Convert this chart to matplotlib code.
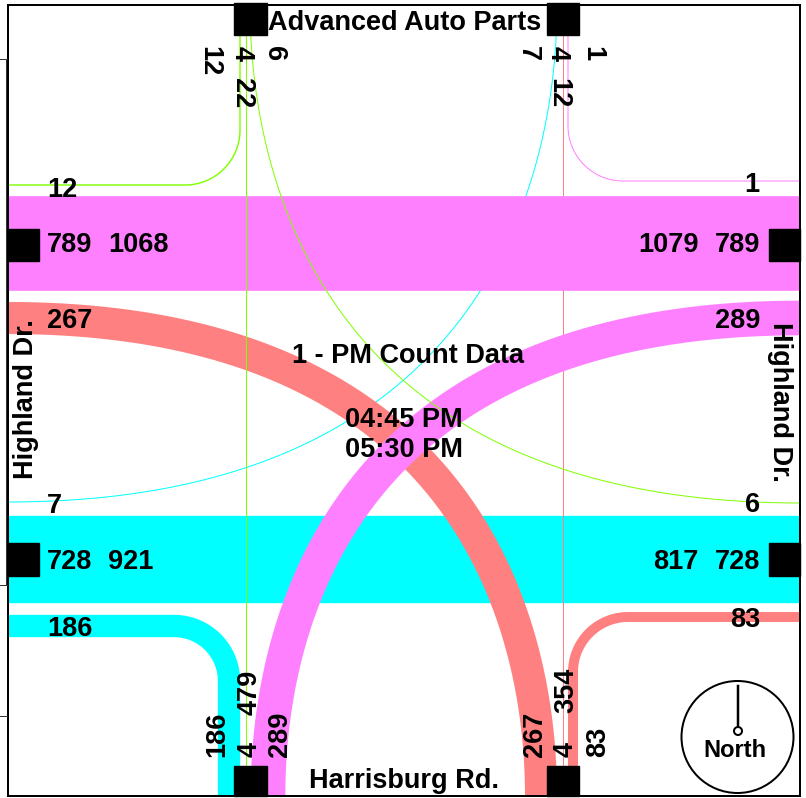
import matplotlib
matplotlib.use('Agg')
import matplotlib.pyplot as plt
from matplotlib.patches import Rectangle, Circle
import numpy as np

# movement volumes per approach: right, through, left
north_vol = [12, 4, 6]      # Advanced Auto Parts
south_vol = [83, 4, 267]    # Harrisburg Rd.
east_vol = [1, 789, 289]    # Highland Dr. (east)
west_vol = [186, 728, 7]    # Highland Dr. (west)

road_names = ['Advanced Auto Parts', 'Harrisburg Rd.', 'Highland Dr.', 'Highland Dr.']
title = '1 - PM Count Data'
times = ['04:45 PM', '05:30 PM']

# approach colours
c_north = '#80FF00'
c_south = '#FF8080'
c_east = '#FF80FF'
c_west = '#00FFFF'

W, H = 806, 798
PX = 72 / 100.0   # points per pixel
SCALE = 0.12      # pixels per vehicle

plt.rcParams['font.family'] = ['Liberation Sans', 'DejaVu Sans']
fig = plt.figure(figsize=(W / 100, H / 100), dpi=100)
ax = fig.add_axes([0, 0, 1, 1])
ax.set_xlim(0, W)
ax.set_ylim(H, 0)
ax.axis('off')


def width(v):
    return max(v * SCALE, 1.0) * PX


def bez(p0, p1, p2, p3, n=200):
    t = np.linspace(0, 1, n)[:, None]
    return (1-t)**3*p0 + 3*(1-t)**2*t*p1 + 3*(1-t)*t**2*p2 + t**3*p3


def left_turn(h_end, v_end, vol, color, z, kh=0.9, kv=0.3):
    h_end = np.array(h_end, float)
    v_end = np.array(v_end, float)
    corner = np.array([v_end[0], h_end[1]])
    p1 = h_end + kh * (corner - h_end)
    p2 = v_end + kv * (corner - v_end)
    pts = bez(h_end, p1, p2, v_end)
    ax.plot(pts[:, 0], pts[:, 1], color=color, lw=width(vol),
            solid_capstyle='butt', zorder=z)


def right_turn(start, corner, end, vol, color, z, r=55):
    start = np.array(start, float)
    corner = np.array(corner, float)
    end = np.array(end, float)
    d1 = (corner - start) / np.linalg.norm(corner - start)
    d2 = (end - corner) / np.linalg.norm(end - corner)
    a = corner - r * d1
    b = corner + r * d2
    c = a + r * d2
    a0 = np.arctan2(*(a - c)[::-1])
    a1 = np.arctan2(*(b - c)[::-1])
    da = (a1 - a0 + np.pi) % (2 * np.pi) - np.pi
    th = np.linspace(a0, a0 + da, 50)
    arc = np.c_[c[0] + r * np.cos(th), c[1] + r * np.sin(th)]
    pts = np.vstack([start, arc, end])
    ax.plot(pts[:, 0], pts[:, 1], color=color, lw=width(vol),
            solid_capstyle='butt', zorder=z)


def through(p0, p1, vol, color, z):
    ax.plot([p0[0], p1[0]], [p0[1], p1[1]], color=color, lw=width(vol),
            solid_capstyle='butt', zorder=z)


# west approach (cyan)
right_turn((8, 626), (229, 626), (229, 795), west_vol[0], c_west, 1)
through((8, 559), (800, 559), west_vol[1], c_west, 1)
left_turn((8, 502), (557, 5), west_vol[2], c_west, 1)

# south approach (red)
right_turn((573, 795), (573, 617), (800, 617), south_vol[0], c_south, 2)
through((562.5, 795), (562.5, 5), south_vol[1], c_south, 2)
left_turn((8, 318), (541, 795), south_vol[2], c_south, 2)

# east approach (magenta)
right_turn((800, 181), (568, 181), (568, 5), east_vol[0], c_east, 3)
through((800, 242.5), (8, 242.5), east_vol[1], c_east, 3)
left_turn((800, 318), (268, 795), east_vol[2], c_east, 3)

# north approach (green)
right_turn((240, 5), (240, 185), (8, 185), north_vol[0], c_north, 4)
through((245.5, 5), (245.5, 795), north_vol[1], c_north, 4)
left_turn((800, 503), (250, 5), north_vol[2], c_north, 4)

# approach markers
for x, y, w, h in [(234, 3, 33, 32), (547, 3, 32, 32), (234, 766, 33, 30), (547, 766, 32, 30),
                   (8, 229, 31, 32), (8, 543, 31, 33), (769, 229, 31, 32), (769, 543, 31, 33)]:
    ax.add_patch(Rectangle((x, y), w, h, color='black', zorder=5))

# frame and leftover box edges on the left
ax.add_patch(Rectangle((8, 5), 791.5, 790.5, fill=False, ec='black', lw=2 * PX, zorder=6))
for yy in [59, 585, 716]:
    ax.plot([0, 7], [yy, yy], color='#333333', lw=1 * PX, zorder=6)
ax.plot([5.5, 5.5], [59, 585], color='#333333', lw=1 * PX, zorder=6)

# totals
n_in = sum(north_vol)
s_in = sum(south_vol)
e_in = sum(east_vol)
w_in = sum(west_vol)
n_out = west_vol[2] + south_vol[1] + east_vol[0]
s_out = west_vol[0] + north_vol[1] + east_vol[2]
e_out = west_vol[1] + north_vol[2] + south_vol[0]
w_out = east_vol[1] + north_vol[0] + south_vol[2]

fs = 19.5
kw = dict(fontsize=fs, fontweight='bold', color='black', zorder=7)

# west side numbers
ax.text(47, 197, str(north_vol[0]), ha='left', va='baseline', **kw)
ax.text(47, 252, str(east_vol[1]), ha='left', va='baseline', **kw)
ax.text(108, 252, str(w_out), ha='left', va='baseline', **kw)
ax.text(47, 328, str(south_vol[2]), ha='left', va='baseline', **kw)
ax.text(47, 513, str(west_vol[2]), ha='left', va='baseline', **kw)
ax.text(47, 569, str(west_vol[1]), ha='left', va='baseline', **kw)
ax.text(108, 569, str(w_in), ha='left', va='baseline', **kw)
ax.text(47, 636, str(west_vol[0]), ha='left', va='baseline', **kw)

# east side numbers
ax.text(759, 192, str(east_vol[0]), ha='right', va='baseline', **kw)
ax.text(760, 252, str(east_vol[1]), ha='right', va='baseline', **kw)
ax.text(699, 252, str(e_in), ha='right', va='baseline', **kw)
ax.text(760, 328, str(east_vol[2]), ha='right', va='baseline', **kw)
ax.text(760, 512, str(north_vol[2]), ha='right', va='baseline', **kw)
ax.text(760, 569, str(west_vol[1]), ha='right', va='baseline', **kw)
ax.text(699, 569, str(e_out), ha='right', va='baseline', **kw)
ax.text(760, 627, str(south_vol[0]), ha='right', va='baseline', **kw)

# north side numbers (reading downwards)
rk = dict(rotation=-90, rotation_mode='anchor', ha='left', va='baseline', **kw)
ax.text(202, 46, str(north_vol[0]), **rk)
ax.text(235, 46, str(north_vol[1]), **rk)
ax.text(235, 78, str(n_in), **rk)
ax.text(267, 46, str(north_vol[2]), **rk)
ax.text(521, 46, str(west_vol[2]), **rk)
ax.text(551, 46, str(south_vol[1]), **rk)
ax.text(551, 78, str(n_out), **rk)
ax.text(585, 46, str(east_vol[0]), **rk)

# south side numbers (reading upwards)
rk = dict(rotation=90, rotation_mode='anchor', ha='left', va='baseline', **kw)
ax.text(224, 757, str(west_vol[0]), **rk)
ax.text(257, 757, str(north_vol[1]), **rk)
ax.text(257, 715, str(s_out), **rk)
ax.text(287, 757, str(east_vol[2]), **rk)
ax.text(542, 757, str(south_vol[2]), **rk)
ax.text(573, 757, str(south_vol[1]), **rk)
ax.text(573, 713, str(s_in), **rk)
ax.text(605, 757, str(south_vol[0]), **rk)

# road names
ax.text(405, 30, road_names[0], ha='center', va='baseline', **kw)
ax.text(404, 788, road_names[1], ha='center', va='baseline', **kw)
ax.text(33, 399, road_names[2], rotation=90, rotation_mode='anchor',
        ha='center', va='baseline', **kw)
ax.text(773, 402, road_names[3], rotation=-90, rotation_mode='anchor',
        ha='center', va='baseline', **kw)

# title and time period
ax.text(408, 363, title, ha='center', va='baseline', **kw)
ax.text(404, 427, times[0], ha='center', va='baseline', **kw)
ax.text(404, 457, times[1], ha='center', va='baseline', **kw)

# north arrow
ax.add_patch(Circle((737.5, 737), 56, fill=False, ec='black', lw=2 * PX, zorder=6))
ax.plot([738, 738], [686, 727], color='black', lw=2.5 * PX, zorder=6)
ax.add_patch(Circle((738, 731), 4, fc='white', ec='black', lw=2 * PX, zorder=7))
ax.text(735, 757, 'North', ha='center', va='baseline', fontsize=17,
        fontweight='bold', zorder=7)

fig.savefig('out.png', dpi=100)
